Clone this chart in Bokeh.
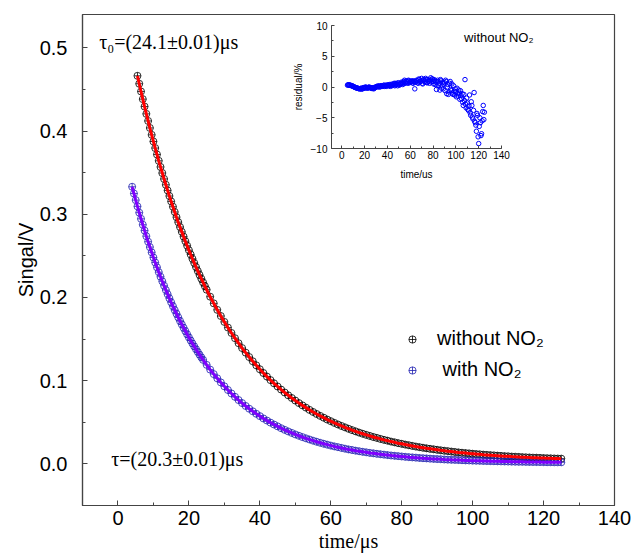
import numpy as np
from bokeh.plotting import figure
from bokeh.models import (Range1d, SingleIntervalTicker, PrintfTickFormatter, Label,
                          Legend, LegendItem)
from bokeh.layouts import column
from bokeh.embed import file_html
from bokeh.resources import INLINE

# ---------------- data ----------------
# signal without NO2 (time in us, signal in V)
t_without = [5.5 + 0.5 * i for i in range(39)] + list(range(25, 126))
v_without = [
    0.4663, 0.4568, 0.4475, 0.4383, 0.4294, 0.4206, 0.4121, 0.4037, 0.3954, 0.3874,
    0.3795, 0.3718, 0.3642, 0.3568, 0.3495, 0.3424, 0.3354, 0.3286, 0.3219, 0.3154,
    0.3090, 0.3027, 0.2965, 0.2905, 0.2846, 0.2788, 0.2731, 0.2676, 0.2622, 0.2568,
    0.2516, 0.2465, 0.2415, 0.2366, 0.2318, 0.2271, 0.2225, 0.2180, 0.2136,
    0.2093, 0.2009, 0.1929, 0.1851, 0.1777, 0.1706, 0.1638, 0.1573, 0.1510, 0.1450,
    0.1392, 0.1337, 0.1284, 0.1233, 0.1184, 0.1137, 0.1092, 0.1049, 0.1007, 0.0968,
    0.0930, 0.0893, 0.0858, 0.0824, 0.0792, 0.0761, 0.0731, 0.0703, 0.0676, 0.0649,
    0.0624, 0.0600, 0.0577, 0.0555, 0.0533, 0.0513, 0.0493, 0.0474, 0.0456, 0.0439,
    0.0422, 0.0406, 0.0391, 0.0376, 0.0362, 0.0349, 0.0336, 0.0323, 0.0312, 0.0300,
    0.0289, 0.0279, 0.0268, 0.0259, 0.0249, 0.0241, 0.0232, 0.0224, 0.0216, 0.0208,
    0.0201, 0.0194, 0.0187, 0.0181, 0.0175, 0.0169, 0.0163, 0.0158, 0.0153, 0.0148,
    0.0143, 0.0138, 0.0134, 0.0130, 0.0126, 0.0122, 0.0118, 0.0115, 0.0111, 0.0108,
    0.0105, 0.0102, 0.0099, 0.0096, 0.0093, 0.0091, 0.0088, 0.0086, 0.0084, 0.0081,
    0.0079, 0.0077, 0.0075, 0.0074, 0.0072, 0.0070, 0.0068, 0.0067, 0.0065, 0.0064,
    0.0063,
]

# signal with NO2
t_with = [4 + 0.5 * i for i in range(40)] + list(range(24, 126))
v_with = [
    0.3330, 0.3249, 0.3170, 0.3094, 0.3019, 0.2945, 0.2874, 0.2804, 0.2736, 0.2670,
    0.2605, 0.2542, 0.2480, 0.2420, 0.2362, 0.2304, 0.2249, 0.2194, 0.2141, 0.2089,
    0.2039, 0.1989, 0.1941, 0.1894, 0.1848, 0.1804, 0.1760, 0.1717, 0.1676, 0.1635,
    0.1596, 0.1557, 0.1520, 0.1483, 0.1447, 0.1412, 0.1378, 0.1345, 0.1312, 0.1280,
    0.1250, 0.1190, 0.1133, 0.1079, 0.1028, 0.0979, 0.0932, 0.0888, 0.0846, 0.0806,
    0.0767, 0.0731, 0.0696, 0.0663, 0.0632, 0.0602, 0.0574, 0.0546, 0.0521, 0.0496,
    0.0473, 0.0451, 0.0429, 0.0409, 0.0390, 0.0372, 0.0354, 0.0338, 0.0322, 0.0307,
    0.0293, 0.0279, 0.0266, 0.0254, 0.0242, 0.0231, 0.0220, 0.0210, 0.0201, 0.0192,
    0.0183, 0.0174, 0.0167, 0.0159, 0.0152, 0.0145, 0.0139, 0.0132, 0.0127, 0.0121,
    0.0116, 0.0111, 0.0106, 0.0101, 0.0097, 0.0093, 0.0089, 0.0085, 0.0081, 0.0078,
    0.0075, 0.0071, 0.0068, 0.0066, 0.0063, 0.0060, 0.0058, 0.0056, 0.0053, 0.0051,
    0.0049, 0.0048, 0.0046, 0.0044, 0.0042, 0.0041, 0.0039, 0.0038, 0.0037, 0.0035,
    0.0034, 0.0033, 0.0032, 0.0031, 0.0030, 0.0029, 0.0028, 0.0027, 0.0026, 0.0025,
    0.0025, 0.0024, 0.0023, 0.0023, 0.0022, 0.0022, 0.0021, 0.0020, 0.0020, 0.0019,
    0.0019, 0.0019,
]

# inset: fit residual without NO2 (%), two interleaved sample sets
t_res_a = list(range(5, 126))
residual_a = [
    0.3, 0.35, 0.3, 0.25, 0.2, 0.1, 0.0, -0.1, -0.15, -0.2,
    -0.25, -0.3, -0.2, -0.3, -0.1, -0.2, 0.0, -0.1, -0.15, 0.0,
    -0.1, -0.2, -0.15, -0.3, -0.1, 0.0, 0.1, 0.0, 0.2, 0.1,
    0.2, 0.1, 0.3, 0.2, 0.1, 0.3, 0.2, 0.4, 0.3, 0.2,
    0.4, 0.6, 0.3, 0.5, 0.2, 0.4, 0.6, 0.5, 0.7, 0.6,
    1.1, 0.7, 0.9, 0.6, 1.0, 0.8, 0.9, 0.7, 1.0, -0.3,
    0.8, 1.0, 0.6, 1.2, 0.9, 1.4, 0.5, 1.1, 0.8, 1.2,
    0.7, 1.0, 0.6, 1.5, 1.3, 0.9, 1.2, 0.4, -0.4, 1.1,
    0.3, -0.5, 1.0, 0.2, -0.3, 0.7, 1.1, -1.1, 0.4, -0.8,
    0.9, -0.6, -1.0, 0.2, -1.3, -0.8, -0.2, -1.5, -1.0, -0.6,
    -1.9, -2.5, -1.2, 1.2, -3.4, -2.6, -3.8, -1.3, -4.6, -3.0,
    -5.2, -0.9, -5.8, -7.2, -4.6, -9.2, -5.0, -7.9, -5.5, -3.0,
    -4.1,
]
t_res_b = [5.5 + i for i in range(120)]
residual_b = [
    0.35, 0.3, 0.3, 0.2, 0.15, 0.05, -0.05, -0.1, -0.2, -0.25,
    -0.3, -0.25, -0.35, -0.15, -0.2, -0.05, -0.1, -0.2, -0.05, -0.1,
    -0.15, -0.25, -0.1, -0.2, 0.0, 0.05, 0.15, 0.1, 0.0, 0.2,
    0.15, 0.25, 0.1, 0.3, 0.2, 0.35, 0.25, 0.1, 0.45, 0.3,
    0.5, 0.2, 0.6, 0.4, 0.7, 0.3, 0.5, 0.8, 0.4, 0.9,
    0.6, 1.0, 0.8, 1.1, 0.7, 0.9, 1.0, 0.6, 0.9, 0.8,
    1.1, 0.7, 1.3, 0.8, 1.0, 0.6, 1.2, 0.9, 1.4, 0.7,
    1.2, 0.9, 1.1, 0.8, 1.3, 0.5, 1.0, 0.8, 0.2, 0.9,
    0.6, 1.2, -0.2, 0.8, 0.5, -0.6, 0.9, 0.0, -1.2, 0.6,
    -0.4, 0.5, -1.2, -0.7, -0.3, -1.6, -1.1, -0.5, -2.0, -1.4,
    -1.1, -3.0, -2.2, -2.8, -1.8, -3.6, -3.1, -4.2, -2.4, -4.9,
    -3.8, -5.6, -6.2, -4.3, -8.1, -6.4, -5.8, -7.6, -4.0, -5.3,
]

series_labels = ["without NO₂", " with NO₂"]
tau0_text = "τ₀=(24.1±0.01)μs"
tau_text = "τ=(20.3±0.01)μs"
inset_title = "without NO₂"

# ---------------- main figure ----------------
AX = "#444444"
p = figure(width=633, height=558, x_range=Range1d(-10, 140), y_range=Range1d(-0.05, 0.54),
           output_backend="svg", toolbar_location=None,
           min_border_left=82, min_border_right=19, min_border_top=14, min_border_bottom=53)
p.frame_align = False
p.xgrid.visible = False
p.ygrid.visible = False
p.outline_line_color = AX
p.outline_line_width = 1.2
p.border_fill_color = "white"

p.xaxis.ticker = SingleIntervalTicker(interval=20, num_minor_ticks=2)
p.yaxis.ticker = SingleIntervalTicker(interval=0.1, num_minor_ticks=2)
p.yaxis.formatter = PrintfTickFormatter(format="%.1f")

for ax in (p.xaxis[0], p.yaxis[0]):
    ax.axis_line_color = AX
    ax.axis_line_width = 1.2
    ax.major_tick_line_color = AX
    ax.minor_tick_line_color = AX
    ax.major_tick_in = 5
    ax.major_tick_out = 0
    ax.minor_tick_in = 3
    ax.minor_tick_out = 0
    ax.major_label_text_font = "Liberation Sans"
    ax.major_label_text_font_size = "20px"
    ax.major_label_text_color = "black"
    ax.axis_label_text_font_style = "normal"
    ax.axis_label_text_color = "black"
    ax.axis_label_text_font_size = "20px"

p.xaxis.axis_label = "time/μs"
p.xaxis.axis_label_text_font = "Liberation Serif"
p.xaxis.major_label_standoff = 5
p.xaxis.axis_label_standoff = 2
p.yaxis.axis_label = "Singal/V"
p.yaxis.axis_label_text_font = "Liberation Sans"
p.yaxis.major_label_standoff = 15
p.yaxis.axis_label_standoff = 0

r1 = p.scatter(t_without, v_without, marker="circle_cross", size=7, line_color="black",
               fill_color=None, line_width=0.8)
r2 = p.scatter(t_with, v_with, marker="circle_cross", size=7, line_color="#1f1fb0",
               fill_color=None, line_width=0.8)
p.line(t_without, v_without, line_color="#ff0000", line_width=3)
p.line(t_with, v_with, line_color="#8000ff", line_width=3)

legend = Legend(items=[LegendItem(label=series_labels[0], renderers=[r1]),
                       LegendItem(label=series_labels[1], renderers=[r2])],
                location=(321, 124), orientation="vertical",
                glyph_width=18, glyph_height=20, label_height=20, spacing=8,
                padding=0, margin=0, label_standoff=16,
                border_line_color=None, background_fill_alpha=0,
                label_text_font="Liberation Sans", label_text_font_size="20px",
                label_text_color="black")
p.add_layout(legend)

p.add_layout(Label(x=-5.3, y=0.507, text=tau0_text, text_font="Liberation Serif",
                   text_font_size="20px", text_baseline="middle", text_color="black"))
p.add_layout(Label(x=-1.9, y=0.006, text=tau_text, text_font="Liberation Serif",
                   text_font_size="20px", text_baseline="middle", text_color="black"))
p.add_layout(Label(x=97.6, y=0.512, text=inset_title, text_font="Liberation Sans",
                   text_font_size="13px", text_baseline="middle", text_color="black"))

# ---------------- inset ----------------
q = figure(width=252, height=167, x_range=Range1d(-9, 140), y_range=Range1d(-10, 10),
           output_backend="svg", toolbar_location=None,
           min_border_left=43, min_border_right=39, min_border_top=9, min_border_bottom=35)
q.frame_align = False
q.outline_line_color = None
q.background_fill_alpha = 0
q.border_fill_alpha = 0
q.xgrid.visible = False
q.ygrid.visible = False
q.xaxis.ticker = SingleIntervalTicker(interval=20, num_minor_ticks=2)
q.yaxis.ticker = SingleIntervalTicker(interval=5, num_minor_ticks=2)
for ax in (q.xaxis[0], q.yaxis[0]):
    ax.axis_line_color = AX
    ax.major_tick_line_color = AX
    ax.minor_tick_line_color = AX
    ax.major_tick_in = 3
    ax.major_tick_out = 0
    ax.minor_tick_in = 2
    ax.minor_tick_out = 0
    ax.major_label_text_font = "Liberation Sans"
    ax.major_label_text_font_size = "10px"
    ax.major_label_text_color = "black"
    ax.axis_label_text_font = "Liberation Sans"
    ax.axis_label_text_font_style = "normal"
    ax.axis_label_text_font_size = "10px"
    ax.axis_label_text_color = "black"
q.xaxis.axis_label = "time/us"
q.xaxis.major_label_standoff = 2
q.xaxis.axis_label_standoff = 7
q.yaxis.axis_label = "residual/%"
q.yaxis.major_label_standoff = 4
q.yaxis.axis_label_standoff = 4

q.scatter(t_res_a + t_res_b, residual_a + residual_b, marker="circle", size=4.5,
          line_color="#0000ff", fill_color=None, line_width=1)
q.styles = {"position": "absolute", "left": "288px", "top": "16px"}

layout = column(p, q)
open("out.html", "w").write(file_html(layout, INLINE))
